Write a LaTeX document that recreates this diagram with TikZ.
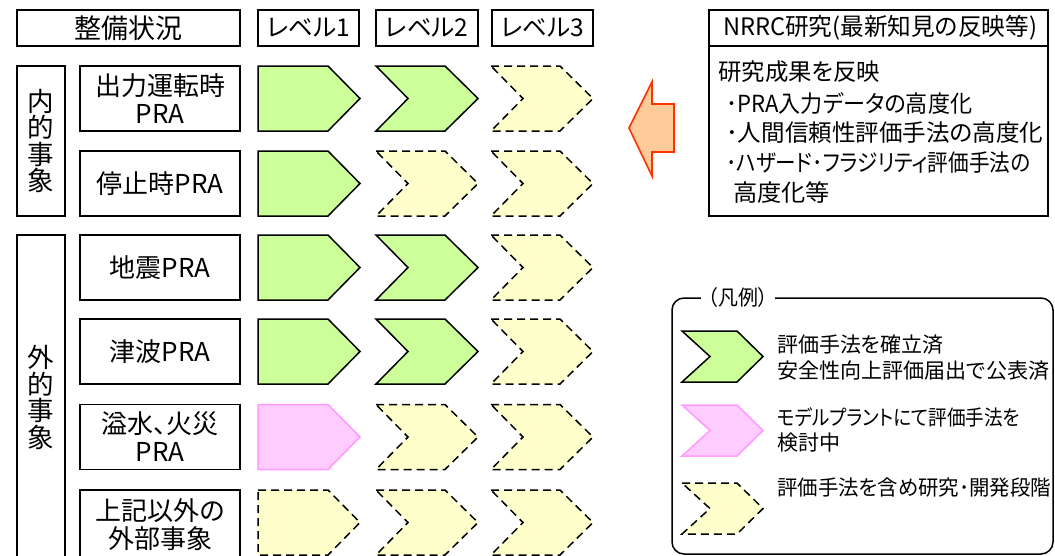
\documentclass[tikz,border=0pt]{standalone}
\usepackage{graphicx}
\usepackage{fontspec}
\setmainfont{Noto Sans CJK JP}[RawFeature={+palt}]
\definecolor{grn}{HTML}{CCFF99}
\definecolor{ylw}{HTML}{FFFFCC}
\definecolor{pnkf}{HTML}{FFCCFF}
\definecolor{pnkd}{HTML}{FF99FF}
\definecolor{orf}{HTML}{FFCC99}
\definecolor{ord}{HTML}{FF3300}
\newcommand\fitto[2]{\resizebox{#1pt}{\height}{#2}}
\tikzset{
  box/.style={draw, line width=1.5pt, inner sep=0pt, outer sep=0pt},
  big/.style={font=\fontsize{26}{28}\selectfont, align=center},
  mid/.style={font=\fontsize{23.5}{30}\selectfont},
  sml/.style={font=\fontsize{21}{25.5}\selectfont},
  done/.style={draw=black, fill=grn, line width=1.5pt, line join=miter},
  model/.style={draw=pnkd, fill=pnkf, line width=1.5pt},
  resch/.style={draw=black, fill=ylw, line width=1.5pt, dash pattern=on 8pt off 5pt},
}
\newcommand\penta[3]{\draw[#3] (#1,#2) -- ++(70,0) -- ++(32,32.5) -- ++(-32,32.5) -- ++(-70,0) -- cycle;}
\newcommand\chev[3]{\draw[#3] (#1,#2) -- ++(69,0) -- ++(33,32.5) -- ++(-33,32.5) -- ++(-69,0) -- ++(32,-32.5) -- cycle;}
\newcommand\lchev[3]{\draw[#3] (#1,#2) -- ++(55,0) -- ++(26,25.5) -- ++(-26,25.5) -- ++(-55,0) -- ++(28,-25.5) -- cycle;}
\begin{document}
\begin{tikzpicture}[x=1pt,y=-1pt]
\useasboundingbox (0,0) rectangle (1055,555);
% header
\node[box, minimum width=223pt, minimum height=36pt, big, font=\fontsize{27}{28}\selectfont] (h0) at (128.5,28) {整備状況};
\node[box, minimum width=101pt, minimum height=36pt, big, font=\fontsize{24.5}{28}\selectfont] (h1) at (308.5,28) {レベル1};
\node[box, minimum width=102pt, minimum height=36pt, big, font=\fontsize{24.5}{28}\selectfont] (h2) at (427,28) {レベル2};
\node[box, minimum width=101pt, minimum height=36pt, big, font=\fontsize{24.5}{28}\selectfont] (h3) at (542.5,28) {レベル3};
% category boxes
\node[box, minimum width=48pt, minimum height=150pt, big, font=\fontsize{26.5}{26.5}\selectfont] (cin) at (41,141) {内\\的\\事\\象};
\node[box, minimum width=48pt, minimum height=325pt, big, font=\fontsize{26.5}{26.5}\selectfont] (cex) at (41,397.5) {外\\的\\事\\象};
% row labels
\node[box, minimum width=160pt, minimum height=65pt, big] (r1) at (160,98.5) {出力運転時\\PRA};
\node[box, minimum width=160pt, minimum height=65pt, big] (r2) at (160,183.5) {停止時PRA};
\node[box, minimum width=160pt, minimum height=65pt, big] (r3) at (160,267.5) {地震PRA};
\node[box, minimum width=160pt, minimum height=65pt, big] (r4) at (160,351.5) {津波PRA};
\node[box, minimum width=160pt, minimum height=65pt, big] (r5) at (160,437) {溢水、火災\\PRA};
\node[box, minimum width=160pt, minimum height=70pt, big] (r6) at (160,525) {上記以外の\\外部事象};
% chevrons row 1
\penta{258}{66}{done}
\chev{376}{66}{done}
\chev{491}{66}{resch}
% row 2
\penta{258}{151}{done}
\chev{376}{151}{resch}
\chev{491}{151}{resch}
% row 3
\penta{258}{235}{done}
\chev{376}{235}{done}
\chev{491}{235}{resch}
% row 4
\penta{258}{319}{done}
\chev{376}{319}{done}
\chev{491}{319}{resch}
% row 5
\penta{258}{404.5}{model}
\chev{376}{404.5}{resch}
\chev{491}{404.5}{resch}
% row 6
\penta{258}{490}{resch}
\chev{376}{490}{resch}
\chev{491}{490}{resch}
% orange arrow
\draw[draw=ord, fill=orf, line width=1.6pt] (629,128) -- (652,82) -- (652,104) -- (674,104) -- (674,152) -- (652,152) -- (652,176) -- cycle;
% NRRC box
\node[box, minimum width=339pt, minimum height=206pt] (nb) at (878.5,113) {};
\draw[line width=1.5pt] (709,46) -- (1048,46);
\node[mid, font=\fontsize{24}{28}\selectfont, inner sep=0pt] (nh) at (880,28) {\fitto{314}{NRRC研究(最新知見の反映等)}};
\node[mid, anchor=west, inner sep=0pt] (n1) at (718,72) {\fitto{162}{研究成果を反映}};
\node[mid, anchor=west, inner sep=0pt] (n2) at (726,103) {\fitto{246}{･PRA入力データの高度化}};
\node[mid, anchor=west, inner sep=0pt] (n3) at (726,133) {\fitto{317}{･人間信頼性評価手法の高度化}};
\node[mid, anchor=west, inner sep=0pt] (n4) at (726,163) {\fitto{304}{･ハザード･フラジリティ評価手法の}};
\node[mid, anchor=west, inner sep=0pt] (n5) at (733,193) {\fitto{97}{高度化等}};
% legend
\draw[line width=1.5pt, rounded corners=12pt] (672,298) rectangle (1053,554);
\node[sml, fill=white, inner xsep=7pt, inner ysep=3pt] (lt) at (738,298) {\fitto{60}{（凡例）}};
\lchev{682}{331}{done}
\lchev{682}{405}{model}
\lchev{682}{483}{resch}
\node[sml, anchor=west, inner sep=0pt, align=left] (l1) at (777,357.5) {\fitto{166}{評価手法を確立済}\\\fitto{272}{安全性向上評価届出で公表済}};
\node[sml, anchor=west, inner sep=0pt, align=left] (l2) at (777,430) {\fitto{243}{モデルプラントにて評価手法を}\\\fitto{63}{検討中}};
\node[sml, anchor=west, inner sep=0pt, align=left] (l3) at (777,488) {\fitto{274}{評価手法を含め研究･開発段階}};
\end{tikzpicture}
\end{document}
